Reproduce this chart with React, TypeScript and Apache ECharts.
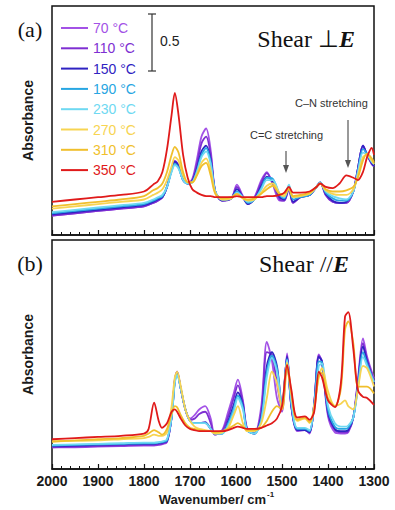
import React, { useEffect, useRef } from "react";
import * as echarts from "echarts";

const temps = ["70 °C", "110 °C", "150 °C", "190 °C", "230 °C", "270 °C", "310 °C", "350 °C"];
const colors = ["#a352e6", "#7e2fd2", "#2f23c2", "#28a6e2", "#6fd9f2", "#f7d452", "#f0bf2c", "#e01a1a"];
const xTicks = [2000, 1900, 1800, 1700, 1600, 1500, 1400, 1300];

// Panel (a): Shear ⊥ E
const wnA = [2000, 1950, 1900, 1850, 1800, 1780, 1770, 1760, 1750, 1740, 1733, 1725, 1715, 1705, 1695, 1685, 1675, 1665, 1655, 1645, 1630, 1610, 1598, 1585, 1574, 1560, 1545, 1533, 1520, 1505, 1495, 1485, 1476, 1460, 1440, 1425, 1417, 1405, 1390, 1375, 1360, 1345, 1335, 1324, 1315, 1305, 1300];
const a70 = [0.17,0.19,0.21,0.23,0.25,0.28,0.30,0.33,0.42,0.58, 0.65,0.61,0.48,0.45,0.49,0.66,0.86,0.93,0.74,0.38, 0.30,0.32,0.44,0.34,0.28,0.33,0.48,0.55,0.44,0.30, 0.30,0.40,0.28,0.33,0.35,0.42,0.46,0.35,0.29,0.28, 0.28,0.38,0.58,0.78,0.70,0.62,0.60];
const a110 = [0.17,0.19,0.21,0.23,0.25,0.28,0.30,0.33,0.42,0.57, 0.64,0.60,0.48,0.45,0.48,0.62,0.80,0.86,0.70,0.38, 0.30,0.32,0.42,0.33,0.27,0.32,0.46,0.54,0.45,0.31, 0.30,0.41,0.28,0.33,0.35,0.42,0.46,0.35,0.29,0.28, 0.28,0.38,0.58,0.78,0.70,0.62,0.60];
const a150 = [0.18,0.20,0.22,0.24,0.26,0.29,0.31,0.33,0.42,0.57, 0.64,0.60,0.48,0.45,0.47,0.58,0.73,0.78,0.66,0.38, 0.30,0.32,0.40,0.33,0.27,0.31,0.43,0.51,0.47,0.33, 0.31,0.42,0.29,0.33,0.35,0.42,0.46,0.36,0.30,0.28, 0.29,0.38,0.58,0.78,0.70,0.63,0.60];
const a190 = [0.19,0.21,0.23,0.25,0.27,0.30,0.32,0.34,0.42,0.56, 0.62,0.59,0.48,0.45,0.46,0.56,0.70,0.76,0.64,0.38, 0.31,0.32,0.38,0.33,0.28,0.31,0.41,0.50,0.49,0.35, 0.32,0.43,0.31,0.33,0.35,0.42,0.46,0.37,0.32,0.30, 0.30,0.38,0.56,0.75,0.71,0.64,0.62];
const a230 = [0.20,0.22,0.24,0.26,0.28,0.31,0.33,0.35,0.42,0.55, 0.61,0.58,0.48,0.45,0.46,0.55,0.68,0.73,0.62,0.38, 0.31,0.32,0.37,0.33,0.29,0.31,0.40,0.48,0.48,0.36, 0.33,0.44,0.33,0.34,0.36,0.42,0.46,0.38,0.34,0.32, 0.31,0.38,0.55,0.72,0.70,0.64,0.62];
const a270 = [0.23,0.25,0.27,0.29,0.31,0.35,0.37,0.40,0.48,0.60, 0.68,0.65,0.52,0.46,0.46,0.53,0.63,0.67,0.56,0.37, 0.31,0.32,0.36,0.32,0.30,0.31,0.37,0.43,0.45,0.36, 0.34,0.41,0.33,0.34,0.36,0.42,0.45,0.39,0.36,0.35, 0.35,0.40,0.52,0.68,0.70,0.65,0.62];
const a310 = [0.25,0.27,0.29,0.31,0.34,0.39,0.41,0.45,0.55,0.70, 0.77,0.72,0.55,0.46,0.46,0.52,0.60,0.63,0.52,0.36, 0.32,0.33,0.36,0.32,0.31,0.32,0.36,0.40,0.43,0.36, 0.36,0.40,0.34,0.35,0.37,0.42,0.45,0.40,0.38,0.38, 0.39,0.42,0.50,0.65,0.71,0.67,0.63];
const a350 = [0.29,0.31,0.33,0.35,0.38,0.44,0.47,0.55,0.75,1.05, 1.24,1.05,0.70,0.50,0.40,0.37,0.35,0.34,0.34,0.33, 0.33,0.33,0.34,0.33,0.33,0.33,0.33,0.34,0.34,0.35, 0.37,0.42,0.37,0.37,0.38,0.42,0.45,0.42,0.41,0.45, 0.52,0.50,0.48,0.55,0.68,0.76,0.70];

// Panel (b): Shear // E
const wnB = [2000, 1950, 1900, 1850, 1800, 1790, 1778, 1768, 1761, 1750, 1740, 1733, 1728, 1720, 1710, 1700, 1690, 1680, 1667, 1655, 1646, 1630, 1617, 1605, 1596, 1585, 1576, 1560, 1545, 1533, 1522, 1511, 1500, 1489, 1480, 1467, 1450, 1440, 1430, 1420, 1413, 1400, 1385, 1372, 1363, 1356, 1345, 1335, 1324, 1315, 1300];
const b70 = [0.19,0.19,0.195,0.20,0.205,0.205,0.205,0.21,0.215,0.235, 0.45,0.78,0.85,0.70,0.52,0.44,0.47,0.52,0.55,0.44, 0.30,0.34,0.50,0.66,0.78,0.60,0.36,0.31,0.55,1.11, 0.95,0.62,0.50,1.01,0.55,0.33,0.34,0.31,0.58,1.00, 0.93,0.46,0.32,0.31,0.31,0.32,0.45,0.78,1.14,0.98,0.79];
const b110 = [0.19,0.195,0.20,0.205,0.21,0.21,0.21,0.215,0.22,0.24, 0.45,0.78,0.85,0.70,0.52,0.43,0.44,0.48,0.50,0.40, 0.30,0.33,0.46,0.62,0.73,0.58,0.35,0.31,0.50,1.02, 1.00,0.75,0.52,0.99,0.56,0.34,0.34,0.32,0.57,0.99, 0.94,0.48,0.34,0.32,0.32,0.33,0.45,0.76,1.10,0.96,0.77];
const b150 = [0.20,0.205,0.21,0.215,0.22,0.22,0.22,0.225,0.23,0.245, 0.45,0.77,0.84,0.70,0.52,0.42,0.40,0.40,0.41,0.35, 0.31,0.31,0.42,0.56,0.67,0.56,0.34,0.31,0.46,0.90, 1.02,0.90,0.55,0.98,0.56,0.34,0.34,0.32,0.57,0.98, 0.94,0.50,0.35,0.33,0.33,0.34,0.45,0.74,1.07,0.94,0.74];
const b190 = [0.205,0.21,0.215,0.22,0.225,0.225,0.225,0.23,0.235,0.25, 0.45,0.76,0.83,0.70,0.52,0.42,0.40,0.40,0.40,0.35, 0.31,0.31,0.40,0.53,0.64,0.54,0.34,0.31,0.44,0.85, 0.99,0.88,0.55,0.96,0.58,0.35,0.35,0.33,0.56,0.94, 0.93,0.52,0.37,0.35,0.35,0.36,0.45,0.72,1.02,0.92,0.76];
const b230 = [0.21,0.215,0.22,0.225,0.23,0.23,0.23,0.235,0.24,0.26, 0.45,0.75,0.82,0.70,0.52,0.42,0.40,0.40,0.40,0.35, 0.31,0.31,0.38,0.50,0.62,0.52,0.34,0.31,0.42,0.80, 0.97,0.85,0.55,0.95,0.60,0.36,0.36,0.34,0.55,0.90, 0.92,0.55,0.40,0.37,0.37,0.38,0.45,0.70,0.98,0.90,0.76];
const b270 = [0.24,0.245,0.25,0.26,0.27,0.28,0.30,0.29,0.29,0.32, 0.55,0.80,0.85,0.72,0.52,0.42,0.37,0.35,0.34,0.33, 0.31,0.32,0.36,0.47,0.55,0.40,0.33,0.33,0.40,0.62, 0.85,0.75,0.52,0.93,0.68,0.42,0.44,0.40,0.55,0.80, 0.88,0.68,0.55,0.57,0.60,0.55,0.52,0.70,0.90,0.88,0.72];
const b310 = [0.24,0.25,0.26,0.27,0.29,0.31,0.34,0.32,0.30,0.35, 0.48,0.55,0.54,0.47,0.40,0.36,0.35,0.34,0.33,0.33, 0.32,0.33,0.35,0.38,0.40,0.37,0.34,0.34,0.36,0.42, 0.50,0.55,0.52,0.88,0.66,0.43,0.45,0.41,0.52,0.82, 0.84,0.62,0.55,0.70,1.22,1.29,1.10,0.72,0.72,0.72,0.66];
const b350 = [0.26,0.27,0.28,0.29,0.31,0.35,0.58,0.42,0.36,0.40, 0.50,0.52,0.50,0.44,0.38,0.35,0.34,0.33,0.33,0.33, 0.33,0.33,0.34,0.36,0.37,0.36,0.35,0.35,0.36,0.38, 0.40,0.44,0.55,0.91,0.70,0.45,0.46,0.43,0.50,0.85, 0.80,0.60,0.54,0.75,1.33,1.37,1.05,0.69,0.63,0.62,0.56];

const panelA = [a70, a110, a150, a190, a230, a270, a310, a350];
const panelB = [b70, b110, b150, b190, b230, b270, b310, b350];

const SANS = "'Liberation Sans', Arial, sans-serif";
const SERIF = "'Liberation Serif', 'Times New Roman', serif";

export default function App() {
  const ref = useRef<HTMLDivElement>(null);

  useEffect(() => {
    if (!ref.current) return;
    const chart = echarts.init(ref.current, null, { renderer: "svg" });

    const makeX = (idx: number, labels: boolean) => ({
      type: "value",
      gridIndex: idx,
      inverse: true,
      min: 1300,
      max: 2000,
      interval: 100,
      axisLine: { show: true, lineStyle: { color: "#111", width: 1.5 } },
      axisTick: { show: true, inside: true, length: 5, lineStyle: { color: "#111", width: 1.2 } },
      minorTick: { show: true, splitNumber: 5, length: 3, lineStyle: { color: "#111", width: 1 } },
      splitLine: { show: false },
      axisLabel: {
        show: labels,
        margin: 5,
        fontFamily: SANS,
        fontWeight: "bold",
        fontSize: 14,
        color: "#1a1a1a",
        formatter: (v: number) => (xTicks.includes(v) ? String(v) : ""),
      },
    });
    const makeY = (idx: number) => ({
      type: "value",
      gridIndex: idx,
      min: 0,
      max: 2,
      name: "Absorbance",
      nameLocation: "middle",
      nameGap: 17,
      nameTextStyle: { fontFamily: SANS, fontWeight: "bold", fontSize: 14, color: "#1a1a1a" },
      axisLine: { show: false },
      axisTick: { show: false },
      axisLabel: { show: false },
      splitLine: { show: false },
    });

    const series: any[] = [];
    [panelA, panelB].forEach((panel, p) => {
      const wn = p === 0 ? wnA : wnB;
      panel.forEach((vals, i) => {
        series.push({
          name: temps[i],
          type: "line",
          xAxisIndex: p,
          yAxisIndex: p,
          data: wn.map((w, k) => [w, vals[k]]),
          showSymbol: false,
          smooth: 0.3,
          lineStyle: { width: 1.8, color: colors[i] },
          itemStyle: { color: colors[i] },
        });
      });
    });

    const tline = (x1: number, y1: number, x2: number, y2: number, color = "#333", w = 1.2) => ({
      type: "line",
      shape: { x1, y1, x2, y2 },
      style: { stroke: color, lineWidth: w },
    });

    chart.setOption({
      animation: false,
      backgroundColor: "#fff",
      grid: [
        { left: 52, top: 6, width: 322, height: 229, show: true, borderColor: "#111", borderWidth: 1.5, backgroundColor: "transparent" },
        { left: 52, top: 240, width: 322, height: 229, show: true, borderColor: "#111", borderWidth: 1.5, backgroundColor: "transparent" },
      ],
      xAxis: [makeX(0, false), makeX(1, true)],
      yAxis: [makeY(0), makeY(1)],
      legend: {
        orient: "vertical",
        left: 56,
        top: 16,
        itemWidth: 27,
        itemHeight: 2,
        itemGap: 6.3,
        icon: "rect",
        selectedMode: false,
        textStyle: { fontFamily: SANS, fontSize: 14, lineHeight: 14 },
        data: temps.map((t, i) => ({ name: t, textStyle: { color: colors[i] } })),
      },
      series,
      graphic: [
        { type: "text", x: 30, y: 29, style: { text: "(a)", font: `22px ${SERIF}`, fill: "#111", align: "center", verticalAlign: "middle" } },
        { type: "text", x: 30, y: 263, style: { text: "(b)", font: `22px ${SERIF}`, fill: "#111", align: "center", verticalAlign: "middle" } },
        {
          type: "text",
          x: 355,
          y: 39,
          style: {
            text: "{n|Shear }{n|⊥}{e|E}",
            align: "right",
            verticalAlign: "middle",
            rich: {
              n: { fontFamily: SERIF, fontSize: 24, fill: "#111", color: "#111" },
              e: { fontFamily: SERIF, fontSize: 24, fontStyle: "italic", fontWeight: "bold", fill: "#111", color: "#111" },
            },
          },
        },
        {
          type: "text",
          x: 349,
          y: 264,
          style: {
            text: "{n|Shear //}{e|E}",
            align: "right",
            verticalAlign: "middle",
            rich: {
              n: { fontFamily: SERIF, fontSize: 24, fill: "#111", color: "#111" },
              e: { fontFamily: SERIF, fontSize: 24, fontStyle: "italic", fontWeight: "bold", fill: "#111", color: "#111" },
            },
          },
        },
        // scale bar
        tline(152, 14, 152, 71),
        tline(148, 14, 156, 14),
        tline(148, 71, 156, 71),
        { type: "text", x: 160, y: 41, style: { text: "0.5", font: `14px ${SANS}`, fill: "#222", align: "left", verticalAlign: "middle" } },
        // annotations
        { type: "text", x: 250, y: 135, style: { text: "C=C stretching", font: `11px ${SANS}`, fill: "#333", align: "left", verticalAlign: "middle" } },
        tline(286, 151, 286, 167, "#555", 1.2),
        { type: "polygon", shape: { points: [[283, 165], [289, 165], [286, 173]] }, style: { fill: "#555" } },
        { type: "text", x: 295, y: 103, style: { text: "C–N stretching", font: `11px ${SANS}`, fill: "#333", align: "left", verticalAlign: "middle" } },
        tline(348, 120, 348, 162, "#555", 1.2),
        { type: "polygon", shape: { points: [[345, 160], [351, 160], [348, 168]] }, style: { fill: "#555" } },
        // x axis title
        { type: "text", x: 266, y: 499, style: { text: "Wavenumber/ cm", font: `bold 13px ${SANS}`, fill: "#1a1a1a", align: "right", verticalAlign: "middle" } },
        { type: "text", x: 267, y: 494, style: { text: "-1", font: `bold 8px ${SANS}`, fill: "#1a1a1a", align: "left", verticalAlign: "middle" } },
      ],
    });

    return () => chart.dispose();
  }, []);

  return <div ref={ref} style={{ position: "absolute", left: 0, top: 0, width: 395, height: 510 }} />;
}
